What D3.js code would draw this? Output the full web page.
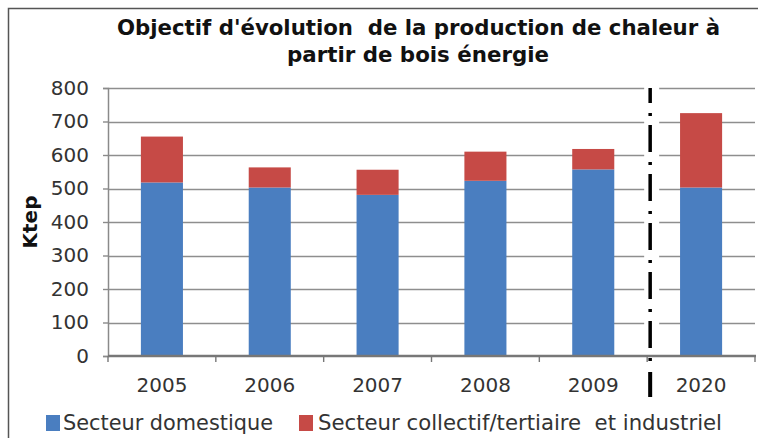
<!DOCTYPE html>
<html>
  <head>
    <meta charset="UTF-8">
    <script src="https://d3js.org/d3.v7.min.js"></script>
    <style>
      body { margin: 0; background: #fff; }
      text { font-family: "DejaVu Sans", Verdana, sans-serif; white-space: pre; }
    </style>
  </head>
  <body>
    <svg id="chart" width="758" height="438"></svg>
    <script>
    // données (Ktep)
    var years = ["2005", "2006", "2007", "2008", "2009", "2020"];
    var domestique = [518, 503, 481, 523, 557, 503];
    var collectif = [137, 60, 75, 87, 61, 222];
    var yTicks = [0, 100, 200, 300, 400, 500, 600, 700, 800];
    var titleLines = ["Objectif d'évolution  de la production de chaleur à", "partir de bois énergie"];
    var seriesNames = ["Secteur domestique", "Secteur collectif/tertiaire  et industriel"];
    var colors = ["#4a7ec0", "#c64a46"];

    var svg = d3.select("#chart");
    var plotL = 108, plotR = 755, plotT = 88, plotB = 356;

    svg.append("rect").attr("width", 758).attr("height", 438).attr("fill", "#fff");
    // cadre
    svg.append("rect")
      .attr("x", 8.5).attr("y", 8.5).attr("width", 800).attr("height", 500)
      .attr("fill", "none").attr("stroke", "#555").attr("stroke-width", 1.5);

    var x = d3.scaleBand().domain(years).range([plotL, plotR]).padding(0);
    var y = d3.scaleLinear().domain([0, 800]).range([plotB, plotT]);

    // titre
    var titleW = [603, 262];
    svg.selectAll(".title").data(titleLines).enter().append("text")
      .attr("class", "title")
      .attr("x", (d, i) => i == 0 ? 117 : 287)
      .attr("y", (d, i) => 35 + i * 27)
      .attr("textLength", (d, i) => titleW[i])
      .attr("lengthAdjust", "spacingAndGlyphs")
      .attr("font-size", 21).attr("font-weight", "bold").attr("fill", "#111")
      .text(d => d);

    // grille
    svg.append("g").selectAll("line").data(yTicks.slice(1)).enter().append("line")
      .attr("x1", plotL).attr("x2", plotR)
      .attr("y1", d => Math.round(y(d)) + 0.5).attr("y2", d => Math.round(y(d)) + 0.5)
      .attr("stroke", "#8e8e8e").attr("stroke-width", 1.4);

    // axe y
    var yAxis = svg.append("g").attr("transform", "translate(" + plotL + ",0)")
      .call(d3.axisLeft(y).tickValues(yTicks).tickSize(5).tickPadding(14));
    yAxis.select(".domain").attr("stroke", "#8a8a8a").attr("stroke-width", 1.5);
    yAxis.selectAll(".tick line").attr("stroke", "#8a8a8a").attr("stroke-width", 1.4);
    yAxis.selectAll("text").attr("font-size", 20).attr("fill", "#333")
      .attr("font-family", "DejaVu Sans, Verdana, sans-serif");

    // barres empilées
    var stack = years.map((d, i) => ({year: d, v: [domestique[i], collectif[i]]}));
    var barW = x.bandwidth() * 0.39;
    stack.forEach(function(s) {
      var base = 0;
      s.v.forEach(function(v, k) {
        svg.append("rect")
          .attr("x", x(s.year) + (x.bandwidth() - barW) / 2)
          .attr("width", barW)
          .attr("y", y(base + v))
          .attr("height", y(base) - y(base + v))
          .attr("fill", colors[k]);
        base += v;
      });
    });

    // axe x
    var xAxis = svg.append("g").attr("transform", "translate(0," + plotB + ")");
    xAxis.append("line").attr("x1", plotL).attr("x2", plotR + 1)
      .attr("stroke", "#777").attr("stroke-width", 2.5);
    xAxis.selectAll(".tk").data(years.concat(["end"])).enter().append("line")
      .attr("x1", (d, i) => plotL + i * x.step()).attr("x2", (d, i) => plotL + i * x.step())
      .attr("y1", 0).attr("y2", 6)
      .attr("stroke", "#777").attr("stroke-width", 1.4);
    xAxis.selectAll(".lbl").data(years).enter().append("text")
      .attr("x", d => x(d) + x.bandwidth() / 2)
      .attr("y", 36)
      .attr("text-anchor", "middle")
      .attr("font-size", 20).attr("fill", "#333")
      .text(d => d);

    // séparation 2009 / 2020
    var sepX = x("2020") + 3;
    svg.append("rect").attr("x", sepX - 6).attr("y", plotT - 1).attr("width", 15)
      .attr("height", plotB - plotT - 1).attr("fill", "#fff");
    svg.append("line")
      .attr("x1", sepX).attr("x2", sepX).attr("y1", plotT).attr("y2", 362)
      .attr("stroke", "#000").attr("stroke-width", 3.5)
      .attr("stroke-dasharray", "27,10,3,9").attr("stroke-dashoffset", 12);
    svg.append("line")
      .attr("x1", sepX).attr("x2", sepX).attr("y1", 372).attr("y2", 397)
      .attr("stroke", "#000").attr("stroke-width", 4);

    // titre axe y
    svg.append("text")
      .attr("transform", "translate(37,222) rotate(-90)")
      .attr("text-anchor", "middle")
      .attr("font-size", 20).attr("font-weight", "bold").attr("fill", "#111")
      .text("Ktep");

    // légende
    var legX = [46, 299], legTextX = [63, 318], legTextW = [210, 404];
    seriesNames.forEach(function(name, i) {
      svg.append("rect").attr("x", legX[i]).attr("y", 415).attr("width", 14).attr("height", 16)
        .attr("fill", colors[i]);
      svg.append("text").attr("x", legTextX[i]).attr("y", 430)
        .attr("textLength", legTextW[i]).attr("lengthAdjust", "spacingAndGlyphs")
        .attr("font-size", 21).attr("fill", "#333")
        .text(name);
    });
    </script>
  </body>
</html>
